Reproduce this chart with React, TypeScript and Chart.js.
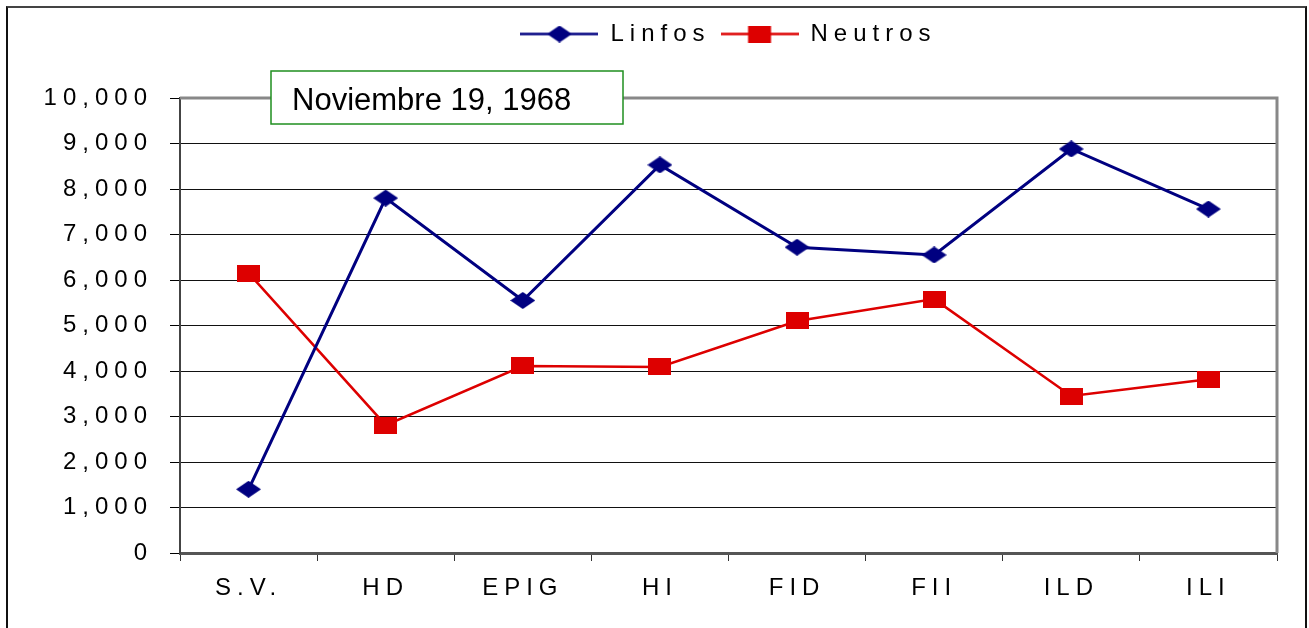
import React, { useEffect, useRef } from "react";
import { Chart, registerables } from "chart.js";

Chart.register(...registerables);

const categories = ["S.V.", "HD", "EPIG", "HI", "FID", "FII", "ILD", "ILI"];
const linfos = [1400, 7800, 5550, 8530, 6720, 6550, 8880, 7560];
const neutros = [6150, 2810, 4110, 4090, 5100, 5580, 3450, 3820];
const yTicks = { min: 0, max: 10000, step: 1000 };
const seriesNames = ["Linfos", "Neutros"];
const boxText = "Noviembre 19, 1968";

const NAVY = "#000080";
const RED = "#DD0000";
const FONT = "'Liberation Sans', Arial, sans-serif";

function makeMarker(kind: string, color: string, w: number, h: number, lineW = 0): HTMLCanvasElement {
  const cw = lineW || w;
  const c = document.createElement("canvas");
  c.width = cw;
  c.height = h;
  const ctx = c.getContext("2d")!;
  if (lineW) {
    ctx.strokeStyle = color;
    ctx.lineWidth = 2.5;
    ctx.beginPath();
    ctx.moveTo(0, h / 2);
    ctx.lineTo(cw, h / 2);
    ctx.stroke();
  }
  const x0 = (cw - w) / 2;
  ctx.fillStyle = color;
  ctx.beginPath();
  if (kind === "diamond") {
    ctx.moveTo(x0 + w / 2, 0);
    ctx.lineTo(x0 + w, h / 2);
    ctx.lineTo(x0 + w / 2, h);
    ctx.lineTo(x0, h / 2);
    ctx.closePath();
  } else {
    ctx.rect(x0, 0, w, h);
  }
  ctx.fill();
  return c;
}

export default function App() {
  const ref = useRef<HTMLCanvasElement | null>(null);

  useEffect(() => {
    document.body.style.margin = "0";
    const canvas = ref.current!;
    const diamond = makeMarker("diamond", NAVY, 25, 17);
    const square = makeMarker("rect", RED, 23, 17);
    const legDiamond = makeMarker("diamond", NAVY, 25, 17, 78);
    const legSquare = makeMarker("rect", RED, 23, 17, 78);

    const spacing = {
      id: "spacing",
      beforeUpdate(chart: any) {
        chart.ctx.letterSpacing = "6px";
      },
      beforeLayout(chart: any) {
        chart.ctx.letterSpacing = "6px";
      },
      beforeDraw(chart: any) {
        chart.ctx.letterSpacing = "6px";
      },
    };

    const frame = {
      id: "frame",
      beforeDatasetsDraw(chart: any) {
        const { ctx, chartArea: a } = chart;
        ctx.save();
        ctx.strokeStyle = "#888";
        ctx.lineWidth = 3;
        ctx.beginPath();
        ctx.moveTo(a.left, a.top);
        ctx.lineTo(a.right, a.top);
        ctx.lineTo(a.right, a.bottom);
        ctx.stroke();
        ctx.restore();
      },
      afterDraw(chart: any) {
        const { ctx, chartArea: a } = chart;
        ctx.save();
        ctx.letterSpacing = "0px";
        const x = a.left + 91;
        const y = a.top - 27;
        ctx.fillStyle = "#fff";
        ctx.fillRect(x, y, 352, 53);
        ctx.strokeStyle = "#1f8f1f";
        ctx.lineWidth = 1.5;
        ctx.strokeRect(x, y, 352, 53);
        ctx.fillStyle = "#000";
        ctx.font = `31px ${FONT}`;
        ctx.textBaseline = "alphabetic";
        ctx.textAlign = "left";
        ctx.fillText(boxText, x + 21, y + 39);
        ctx.restore();
      },
    };

    const chart = new Chart(canvas, {
      type: "line",
      data: {
        labels: categories,
        datasets: [
          {
            label: seriesNames[0],
            data: linfos,
            borderColor: NAVY,
            backgroundColor: NAVY,
            borderWidth: 3,
            pointStyle: diamond as any,
            pointRadius: 9,
            tension: 0,
          },
          {
            label: seriesNames[1],
            data: neutros,
            borderColor: RED,
            backgroundColor: RED,
            borderWidth: 2.5,
            pointStyle: square as any,
            pointRadius: 9,
            tension: 0,
          },
        ],
      },
      options: {
        animation: false,
        responsive: false,
        layout: { padding: { top: 12, right: 32, left: 0, bottom: 0 } },
        font: { family: FONT, size: 24 },
        color: "#000",
        plugins: {
          tooltip: { enabled: false },
          title: {
            display: true,
            text: "",
            weight: 500,
            padding: 0,
            font: { size: 42, lineHeight: 1 },
          } as any,
          legend: {
            position: "top",
            fullSize: false,
            labels: {
              usePointStyle: true,
              pointStyleWidth: 78,
              boxHeight: 20,
              padding: 10,
              color: "#000",
              font: { family: FONT, size: 24 },
              generateLabels: () => [
                { text: seriesNames[0], pointStyle: legDiamond as any, fillStyle: NAVY, strokeStyle: NAVY, lineWidth: 0, hidden: false, datasetIndex: 0 },
                { text: seriesNames[1], pointStyle: legSquare as any, fillStyle: RED, strokeStyle: RED, lineWidth: 0, hidden: false, datasetIndex: 1 },
              ],
            },
          },
        },
        scales: {
          x: {
            type: "category",
            offset: true,
            afterFit: (s: any) => {
              s.height = 75;
            },
            grid: {
              drawOnChartArea: false,
              offset: true,
              tickLength: 8,
              color: "#333",
              tickWidth: 1,
            },
            border: { color: "#555", width: 3 },
            ticks: {
              color: "#000",
              font: { family: FONT, size: 24 },
              padding: 13,
              maxRotation: 0,
              autoSkip: false,
            },
          },
          y: {
            min: yTicks.min,
            max: yTicks.max,
            afterFit: (s: any) => {
              s.width = 180;
            },
            grid: {
              color: (c: any) =>
                c.tick && (c.tick.value === yTicks.max || c.tick.value === yTicks.min) ? "rgba(0,0,0,0)" : "#111",
              tickColor: "#000",
              tickLength: 10,
              lineWidth: 1,
            },
            border: { color: "#444", width: 2 },
            ticks: {
              stepSize: yTicks.step,
              color: "#000",
              font: { family: FONT, size: 24 },
              padding: 17,
              callback: (v: any) => Number(v).toLocaleString("en-US"),
            },
          },
        },
      },
      plugins: [spacing, frame],
    });
    return () => chart.destroy();
  }, []);

  return (
    <div style={{ position: "fixed", left: 0, top: 0, width: 1309, height: 628, overflow: "hidden", background: "#fff" }}>
      <canvas ref={ref} width={1309} height={628} style={{ position: "absolute", left: 0, top: 0 }} />
      <div
        style={{
          position: "absolute",
          left: 6,
          top: 6,
          width: 1297,
          height: 660,
          borderLeft: "2px solid #111",
          borderTop: "2px solid #444",
          borderRight: "2px solid #111",
          pointerEvents: "none",
        }}
      />
    </div>
  );
}
